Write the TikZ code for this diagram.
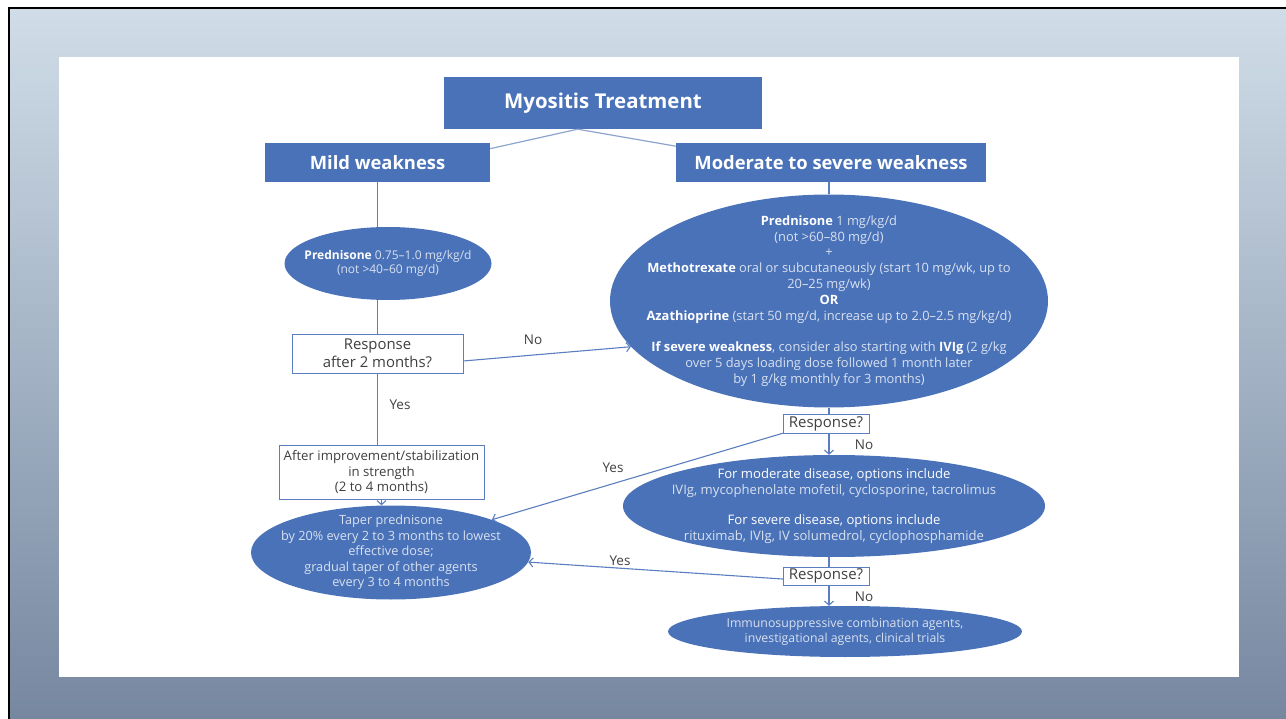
\documentclass[tikz,border=0pt]{standalone}
\usepackage{fontspec}
\setmainfont{Open Sans}
\usetikzlibrary{shapes.geometric, arrows.meta}

\definecolor{boxblue}{HTML}{4A72B9}
\definecolor{edgeblue}{HTML}{5B7EC1}
\definecolor{topedge}{HTML}{8DA5CE}
\definecolor{paletxt}{HTML}{D8E1EF}
\definecolor{darktxt}{HTML}{404040}
\definecolor{bgtop}{HTML}{D0DDE8}
\definecolor{bgbot}{HTML}{7687A0}

\newcommand{\bw}[1]{\textcolor{white}{\bfseries #1}}

\begin{document}
\begin{tikzpicture}[x=1pt, y=-1pt, >={Straight Barb[length=4pt, width=9pt]}]

    % estilos
    \tikzstyle{header}=[rectangle, fill=boxblue, text=white, inner sep=0pt, font=\bfseries\fontsize{18.4}{22}\selectfont]
    \tikzstyle{bubble}=[ellipse, fill=boxblue, text=paletxt, inner xsep=-60pt, inner ysep=-30pt, align=center]
    \tikzstyle{question}=[rectangle, draw=edgeblue, fill=white, text=darktxt, inner sep=0pt, align=center]
    \tikzstyle{answer}=[text=darktxt, font=\fontsize{13.5}{15}\selectfont]
    \tikzstyle{link}=[edgeblue, line width=1.1pt]
    \tikzstyle{flow}=[->, edgeblue, line width=1.1pt]

    \useasboundingbox (0,0) rectangle (1286,719);

    %======================= SLIDE =======================
    \fill[white] (0,0) rectangle (1286,719);
    \shade[top color=bgtop, bottom color=bgbot] (9,8) rectangle (1286,719);
    \draw[black, line width=2pt] (9,719) -- (9,8) -- (1286,8);
    \fill[white] (59,57) rectangle (1239,677);

    %======================= TOPO =======================
    \node[header, minimum width=318, minimum height=52, font=\bfseries\fontsize{20.4}{24}\selectfont] (title) at (603,103) {Myositis Treatment};
    \node[header, minimum width=225, minimum height=39] (mild) at (377.5,162.5) {Mild weakness};
    \node[header, minimum width=310, minimum height=39] (moderate) at (831,162.5) {Moderate to severe weakness};

    \draw[topedge, line width=1.2pt] (title.226) -- (mild.7);
    \draw[topedge, line width=1.2pt] (title.226) -- (moderate.174);

    %======================= ESQUERDA =======================
    \node[bubble, minimum width=207, minimum height=73, font=\fontsize{12}{14.5}\selectfont] (predL) at (388,263.5)
      {\bw{Prednisone} 0.75–1.0 mg/kg/d\\(not >40–60 mg/d)};
    \node[question, minimum width=171, minimum height=39, font=\fontsize{14.9}{18}\selectfont] (resp1) at (377.5,353.5)
      {Response\\after 2 months?};
    \node[question, minimum width=205, minimum height=54, font=\fontsize{13.2}{15.5}\selectfont] (improve) at (381.5,472)
      {After improvement/stabilization\\in strength\\(2 to 4 months)};
    \node[bubble, minimum width=280, minimum height=94, font=\fontsize{12.7}{15.5}\selectfont] (taper) at (391,552.5)
      {Taper prednisone\\by 20\% every 2 to 3 months to lowest\\effective dose;\\gradual taper of other agents\\every 3 to 4 months};

    \draw[link] (mild.south) -- (mild.south |- predL.north);
    \draw[link] (resp1.north |- predL.south) -- (resp1.north);
    \draw[link] (resp1.south) -- (resp1.south |- improve.north);
    \draw[flow] (improve.south) -- (improve.south |- taper.north);

    %======================= DIREITA =======================
    \node[bubble, minimum width=438, minimum height=213, font=\fontsize{12.85}{15.8}\selectfont] (predR) at (829,301)
      {\bw{Prednisone} 1 mg/kg/d\\(not >60–80 mg/d)\\+\\
       \bw{Methotrexate} oral or subcutaneously (start 10 mg/wk, up to\\20–25 mg/wk)\\\bw{OR}\\
       \bw{Azathioprine} (start 50 mg/d, increase up to 2.0–2.5 mg/kg/d)\\[15.8pt]
       \bw{If severe weakness}, consider also starting with \bw{IVIg} (2 g/kg\\
       over 5 days loading dose followed 1 month later\\by 1 g/kg monthly for 3 months)};
    \node[question, minimum width=86, minimum height=19, font=\fontsize{15}{16}\selectfont] (resp2) at (826,423.5) {Response?};
    \node[bubble, minimum width=422, minimum height=102, font=\fontsize{13.1}{16}\selectfont] (second) at (834,506)
      {\textcolor{white}{For moderate disease, options include}\\IVIg, mycophenolate mofetil, cyclosporine, tacrolimus\\[14pt]
       \textcolor{white}{For severe disease, options include}\\rituximab, IVIg, IV solumedrol, cyclophosphamide};
    \node[question, minimum width=86, minimum height=18, font=\fontsize{15}{16}\selectfont] (resp3) at (826,576) {Response?};
    \node[bubble, minimum width=354, minimum height=51, font=\fontsize{12.3}{15}\selectfont] (last) at (845,631.5)
      {Immunosuppressive combination agents,\\investigational agents, clinical trials};

    \draw[link] (predR.north |- moderate.south) -- (predR.north);
    \draw[link] (predR.south) -- (predR.south |- resp2.north);
    \draw[flow] (resp2.south -| predR.south) -- (predR.south |- second.north);
    \draw[link] (second.south -| predR.south) -- (predR.south |- resp3.north);
    \draw[flow] (resp3.south -| predR.south) -- (predR.south |- last.north);

    %======================= CRUZADAS =======================
    \draw[flow] (resp1.-5) -- (predR.193);
    \draw[flow] (resp2.south west) -- (taper.18);
    \draw[flow] (resp3.184) -- (taper.-4);

    % rotulos sim/nao
    \node[answer] (no1)  at (533,340) {No};
    \node[answer] (yes1) at (400,405) {Yes};
    \node[answer] (yes2) at (613,468) {Yes};
    \node[answer] (no2)  at (864,445) {No};
    \node[answer] (yes3) at (620,561) {Yes};
    \node[answer] (no3)  at (864,597) {No};

\end{tikzpicture}
\end{document}
